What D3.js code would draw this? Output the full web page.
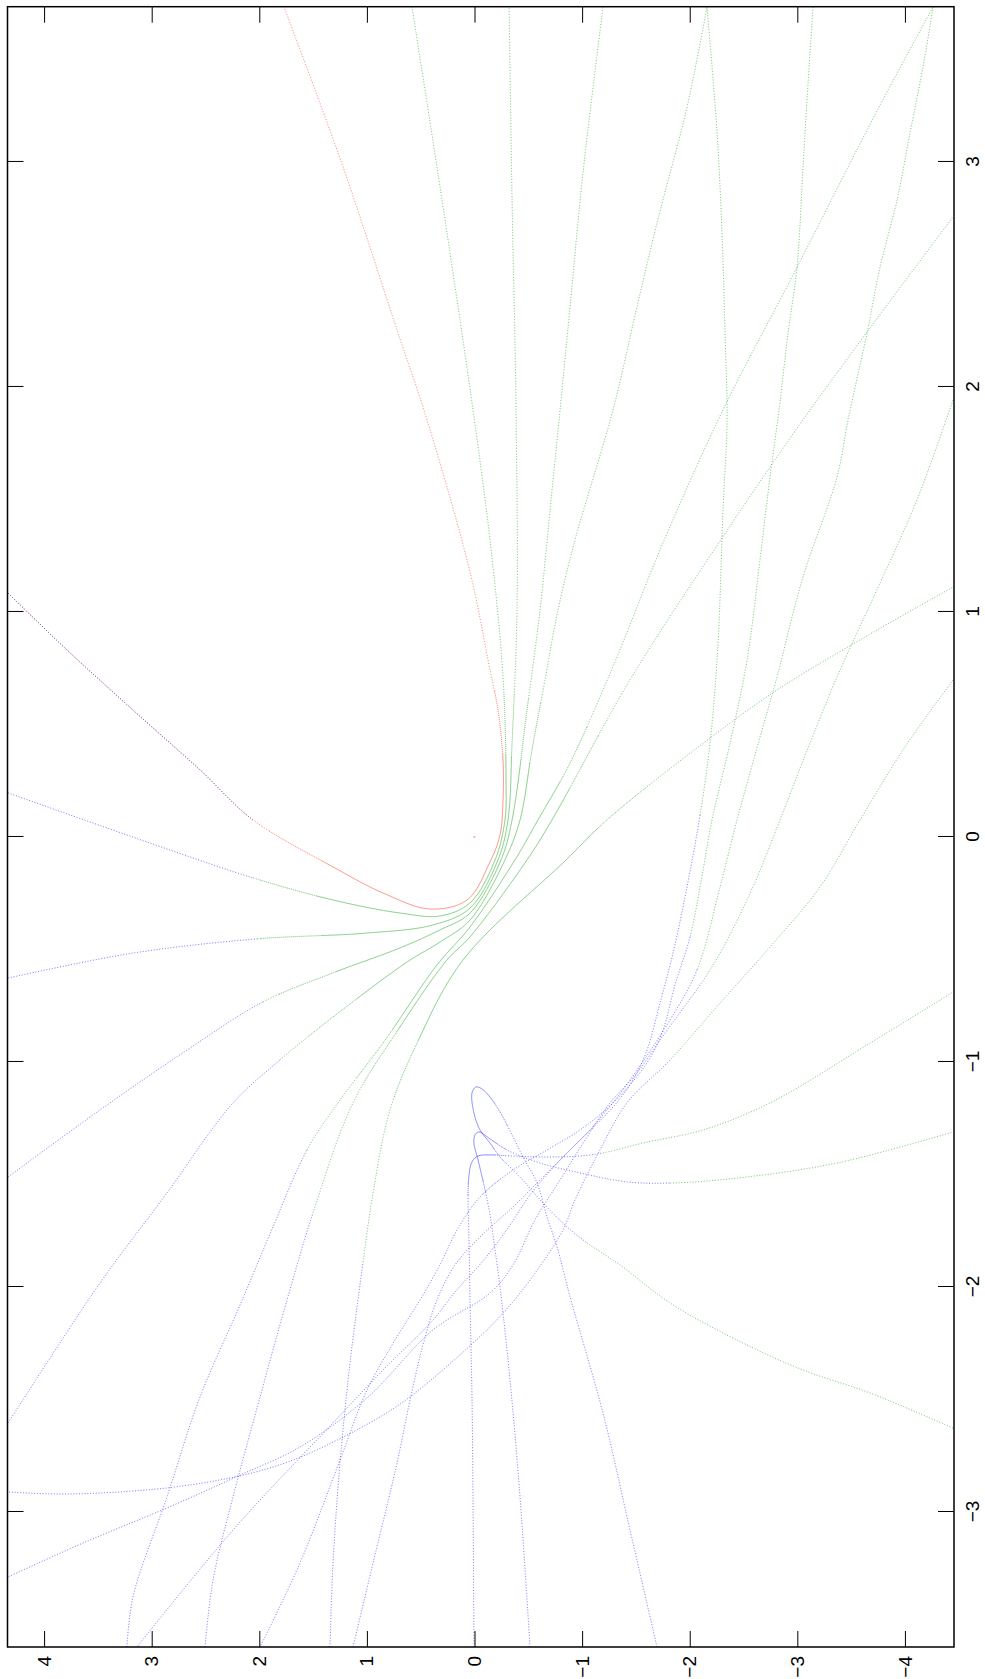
<!DOCTYPE html>
<html>
<head>
<meta charset="utf-8">
<script src="https://cdn.jsdelivr.net/npm/d3@7"></script>
<style>
  body { margin: 0; background: #fff; }
  svg { display: block; }
</style>
</head>
<body>
<div id="chart"></div>
<script>
// axis ticks and limits (the plot is drawn landscape, then turned a quarter turn)
const xTicks = [-3, -2, -1, 0, 1, 2, 3];
const yTicks = [-4, -3, -2, -1, 0, 1, 2, 3, 4];
const xDomain = [-3.6, 3.69];
const yDomain = [-4.456, 4.34];

// trajectories, [x, y] pairs
const redCurve = [[1.084,4.335],[0.831,3.787],[0.564,3.174],[0.298,2.551],[0.076,2.059],[-0.133,1.315],[-0.249,0.850],[-0.320,0.414],[-0.280,0.070],[-0.111,-0.144],[0.009,-0.237],[0.164,-0.265],[0.342,-0.265],[0.564,-0.218],[0.764,-0.135],[1.178,0.042],[1.853,0.441],[2.240,0.711],[2.978,1.222],[3.689,1.770]];
const redLeadBlue = [[1.084,4.335],[0.831,3.787],[0.564,3.174],[0.298,2.551],[0.076,2.059]];

const fan1Blue = [[0.196,4.335],[0.076,3.629],[-0.058,2.830],[-0.182,2.059]];
const fan1Green = [[-0.182,2.059],[-0.280,1.315],[-0.338,0.692],[-0.351,0.321],[-0.293,0.042],[-0.102,-0.191],[0.076,-0.283],[0.253,-0.293],[0.711,-0.265],[1.320,-0.144],[1.898,0.014],[2.831,0.302],[3.689,0.581]];

const fan2Blue = [[-0.627,4.335],[-0.516,3.174],[-0.453,2.021]];
const fan2Green = [[-0.453,2.021],[-0.427,0.999],[-0.391,0.386],[-0.316,0.042],[-0.102,-0.218],[0.076,-0.311],[0.418,-0.349],[1.009,-0.395],[1.898,-0.386],[2.831,-0.349],[3.689,-0.321]];

const fan3Blue = [[-1.511,4.335],[-1.213,3.480],[-0.947,2.672],[-0.733,1.966]];
const fan3Green = [[-0.733,1.966],[-0.604,1.315],[-0.493,0.692],[-0.413,0.321],[-0.338,0.042],[-0.102,-0.246],[0.076,-0.349],[0.564,-0.488],[1.009,-0.609],[1.453,-0.702],[1.898,-0.795],[2.356,-0.888],[2.951,-1.008],[3.689,-1.194]];

const fan4Blue = [[-2.604,4.335],[-2.316,3.945],[-1.982,3.480],[-1.582,2.858],[-1.182,2.244],[-0.991,1.808]];
const fan4Green = [[-0.991,1.808],[-0.800,1.315],[-0.556,0.627],[-0.467,0.321],[-0.369,0.042],[-0.102,-0.283],[0.076,-0.423],[0.387,-0.534],[0.698,-0.655],[1.009,-0.776],[1.320,-0.934],[1.898,-1.287],[2.356,-1.510],[2.729,-1.696],[3.244,-1.975],[3.689,-2.161]];

const fan5Blue = [[-3.600,3.230],[-3.378,3.174],[-2.933,2.858],[-2.489,2.551],[-2.080,2.179],[-1.733,1.873],[-1.391,1.557]];
const fan5Green = [[-1.391,1.557],[-1.169,1.250],[-0.916,0.850],[-0.569,0.349],[-0.400,0.042],[-0.102,-0.376],[0.076,-0.590],[0.329,-0.888],[0.800,-1.324],[1.276,-1.724],[1.898,-2.309],[2.489,-2.951],[3.253,-3.769],[3.689,-4.262]];

const fan6Blue = [[-3.600,2.505],[-3.302,2.430],[-2.933,2.244],[-2.489,1.993],[-2.089,1.761],[-1.671,1.501]];
const fan6Green = [[-1.671,1.501],[-1.182,1.129],[-0.844,0.692],[-0.547,0.256],[-0.444,0.042],[-0.102,-0.488],[0.076,-0.720],[0.698,-1.445],[1.342,-2.319],[1.898,-3.118],[2.756,-4.447]];

const fan7Blue = [[-3.600,1.343],[-3.227,1.315],[-2.782,1.250],[-2.338,1.157],[-2.058,1.083],[-1.889,1.036]];
const fan7Green = [[-1.889,1.036],[-1.582,0.943],[-1.213,0.785],[-0.916,0.534],[-0.547,0.107],[-0.102,-0.851],[0.076,-1.231],[0.440,-2.189],[0.653,-2.811],[0.876,-3.583],[1.111,-4.447]];

const dropDGreen = [[3.689,-2.161],[3.129,-2.254],[2.684,-2.300],[2.240,-2.328],[1.853,-2.347],[1.453,-2.309],[0.862,-2.263],[0.418,-2.189],[0.098,-2.096]];
const dropDBlue = [[0.098,-2.096],[-0.222,-1.975],[-0.516,-1.845],[-0.738,-1.724],[-0.947,-1.603],[-1.080,-1.473],[-1.200,-1.287],[-1.347,-0.981],[-1.493,-0.674],[-1.644,-0.358],[-1.778,-0.051],[-1.902,0.181],[-2.058,0.349],[-2.258,0.479],[-2.502,0.599],[-2.782,0.720],[-3.227,0.943],[-3.600,1.129]];

const dropEGreen = [[3.689,-3.146],[3.276,-3.090],[2.978,-3.053],[2.533,-2.997],[2.240,-2.914],[1.898,-2.830],[1.600,-2.746],[1.231,-2.653],[0.787,-2.533],[0.418,-2.375],[0.076,-2.207],[-0.147,-2.124],[-0.444,-2.003]];
const dropEBlue = [[-0.444,-2.003],[-0.658,-1.863],[-0.858,-1.752],[-1.004,-1.603],[-1.182,-1.287],[-1.302,-0.981],[-1.391,-0.674],[-1.480,-0.358],[-1.600,-0.051],[-1.747,0.163],[-1.902,0.321],[-2.058,0.507],[-2.236,0.739],[-2.458,0.999],[-2.769,1.250],[-3.227,1.622],[-3.600,1.993]];

const dropGGreen = [[3.689,-4.262],[3.422,-4.168],[3.129,-4.047],[2.831,-3.927],[2.533,-3.769],[2.240,-3.648],[1.853,-3.471],[1.600,-3.369],[1.156,-3.053],[0.711,-2.811],[0.396,-2.625],[0.076,-2.440],[-0.222,-2.282],[-0.591,-2.068]];
const dropGBlue = [[-0.591,-2.068],[-0.813,-1.817],[-1.036,-1.510],[-1.169,-1.306],[-1.302,-1.073],[-1.436,-0.795],[-1.591,-0.516],[-1.738,-0.311],[-1.889,-0.070],[-2.022,0.181],[-2.147,0.386],[-2.369,0.850],[-2.604,1.315],[-3.080,2.244],[-3.600,3.137]];

const dropIGreen = [[1.942,-4.447],[1.498,-4.112],[1.129,-3.769],[0.711,-3.369],[0.396,-3.100],[0.076,-2.839],[-0.222,-2.588],[-0.516,-2.282],[-0.658,-2.096]];
const dropIBlue = [[-0.658,-2.096],[-0.738,-1.975],[-0.902,-1.724],[-1.049,-1.510],[-1.182,-1.259],[-1.347,-1.027],[-1.524,-0.795],[-1.702,-0.562],[-1.902,-0.358],[-2.027,-0.144],[-2.191,0.386],[-2.493,0.999],[-2.711,1.622],[-2.836,2.179],[-2.982,2.858],[-3.138,3.639],[-3.289,4.335]];

const dropKGreen = [[0.698,-4.447],[0.387,-3.982],[0.076,-3.583],[-0.222,-3.211],[-0.489,-2.746],[-0.738,-2.282],[-0.991,-1.817]];
const dropKBlue = [[-0.991,-1.817],[-1.182,-1.417],[-1.391,-1.166],[-1.613,-0.934],[-1.747,-0.822],[-1.969,-0.516],[-2.116,-0.265],[-2.249,0.014],[-2.511,0.664],[-2.644,1.129],[-2.769,1.687],[-2.836,2.151],[-2.893,2.858],[-2.920,3.787],[-2.911,4.335]];

const loopABlue = [[-3.600,-1.696],[-3.080,-1.445],[-2.560,-1.194],[-2.044,-0.888],[-1.822,-0.767],[-1.689,-0.674],[-1.538,-0.581],[-1.422,-0.451],[-1.333,-0.358],[-1.222,-0.237],[-1.156,-0.144],[-1.120,-0.070],[-1.111,-0.014],[-1.138,0.023],[-1.227,0.005],[-1.302,-0.051],[-1.360,-0.144],[-1.422,-0.237],[-1.511,-0.423],[-1.627,-0.637],[-1.733,-0.860],[-1.804,-1.046]];
const loopAGreen = [[-1.804,-1.046],[-1.902,-1.352],[-2.071,-1.817],[-2.236,-2.440],[-2.369,-3.053],[-2.471,-3.676],[-2.627,-4.447]];

const loopBBlue = [[-3.600,-0.516],[-2.933,-0.423],[-2.413,-0.330],[-2.000,-0.237],[-1.836,-0.191],[-1.680,-0.144],[-1.547,-0.088],[-1.436,-0.033],[-1.360,0.005],[-1.324,-0.005],[-1.311,-0.042],[-1.342,-0.144],[-1.391,-0.302],[-1.449,-0.609],[-1.493,-0.981],[-1.533,-1.417],[-1.538,-1.817]];
const loopBGreen = [[-1.538,-1.817],[-1.516,-2.440],[-1.449,-3.369],[-1.311,-4.447]];

const loopCBlue = [[-3.600,0.005],[-2.947,0.014],[-2.502,0.023],[-2.058,0.042],[-1.791,0.051],[-1.613,0.060],[-1.502,0.051],[-1.444,0.023],[-1.418,-0.033],[-1.413,-0.144],[-1.418,-0.358],[-1.422,-0.674],[-1.418,-0.981],[-1.404,-1.194]];
const loopCGreen = [[-1.404,-1.194],[-1.360,-1.566],[-1.302,-2.124],[-1.182,-2.746],[-0.916,-3.676],[-0.689,-4.447]];

const restPoint = [[0, 0]];

const BLUE = '#1010ff', GREEN = '#009a00', RED = '#ff1a00';

// each trajectory: first part and second part share their join point
const pairs = [
  [fan1Blue, BLUE, fan1Green, GREEN],
  [fan2Blue, BLUE, fan2Green, GREEN],
  [fan3Blue, BLUE, fan3Green, GREEN],
  [fan4Blue, BLUE, fan4Green, GREEN],
  [fan5Blue, BLUE, fan5Green, GREEN],
  [fan6Blue, BLUE, fan6Green, GREEN],
  [fan7Blue, BLUE, fan7Green, GREEN],
  [dropDGreen, GREEN, dropDBlue, BLUE],
  [dropEGreen, GREEN, dropEBlue, BLUE],
  [dropGGreen, GREEN, dropGBlue, BLUE],
  [dropIGreen, GREEN, dropIBlue, BLUE],
  [dropKGreen, GREEN, dropKBlue, BLUE],
  [loopABlue, BLUE, loopAGreen, GREEN],
  [loopBBlue, BLUE, loopBGreen, GREEN],
  [loopCBlue, BLUE, loopCGreen, GREEN]
];

// landscape plot box, turned so that x runs up the page and y runs to the left
const W = 1640.3, H = 946.5;
const left = 7.5, bottom = 1647;

const svg = d3.select('#chart').append('svg')
  .attr('width', 985)
  .attr('height', 1679);

const g = svg.append('g')
  .attr('transform', `translate(${left},${bottom}) rotate(-90)`);

const x = d3.scaleLinear().domain(xDomain).range([0, W]);
const y = d3.scaleLinear().domain(yDomain).range([H, 0]);

g.append('clipPath').attr('id', 'box')
  .append('rect').attr('width', W).attr('height', H);

const line = d3.line()
  .x(d => x(d[0]))
  .y(d => y(d[1]))
  .curve(d3.curveCatmullRom.alpha(0.5));

const plain = d3.line();

const plot = g.append('g').attr('clip-path', 'url(#box)');

// walk along the smooth path so the colour change does not bend the curve
function sampleCurve(pts) {
  const p = plot.append('path').attr('d', line(pts)).style('fill', 'none');
  const node = p.node();
  const len = node.getTotalLength();
  const out = [];
  for (let s = 0; s <= len; s += 0.5) {
    const q = node.getPointAtLength(s);
    out.push([q.x, q.y]);
  }
  const end = node.getPointAtLength(len);
  out.push([end.x, end.y]);
  p.remove();
  return out;
}

function nearestIndex(samples, pt) {
  const px = x(pt[0]), py = y(pt[1]);
  let best = 0, bd = Infinity;
  samples.forEach((s, i) => {
    const d = (s[0] - px) ** 2 + (s[1] - py) ** 2;
    if (d < bd) { bd = d; best = i; }
  });
  return best;
}

const pieces = [];

// red separatrix, with the blue run lying on its first stretch
const redSamples = sampleCurve(redCurve);
pieces.push([redSamples, RED]);
pieces.push([redSamples.slice(0, nearestIndex(redSamples, redLeadBlue[redLeadBlue.length - 1]) + 1), BLUE]);

pairs.forEach(([a, ca, b, cb]) => {
  const samples = sampleCurve(a.concat(b.slice(1)));
  const k = nearestIndex(samples, a[a.length - 1]);
  pieces.push([samples.slice(0, k + 1), ca]);
  pieces.push([samples.slice(k), cb]);
});

// the solver crawls near the knot and at the loop tips, so the dots merge there
const slowSpots = [
  [redCurve[8], 150],
  [loopABlue[12], 26],
  [loopBBlue[9], 24],
  [loopCBlue[7], 24]
].map(([p, r]) => [x(p[0]), y(p[1]), r]);

function level(s) {
  let best = 2;
  slowSpots.forEach(([cx, cy, r]) => {
    const d = Math.hypot(s[0] - cx, s[1] - cy);
    if (d < r) best = 0;
    else if (d < r * 1.4 && best > 1) best = 1;
  });
  return best;
}

const runs = [];
pieces.forEach(([samples, color]) => {
  let cur = null;
  samples.forEach(s => {
    const lv = level(s);
    if (!cur || cur.lv !== lv) {
      if (cur) cur.pts.push(s);
      cur = {lv, color, pts: cur ? [cur.pts[cur.pts.length - 1], s] : [s]};
      runs.push(cur);
    } else {
      cur.pts.push(s);
    }
  });
});

const dash = ['none', '1,1', '1,1.8'];

plot.selectAll('path.traj')
  .data(runs)
  .enter().append('path')
  .attr('class', 'traj')
  .attr('d', d => plain(d.pts))
  .style('fill', 'none')
  .style('stroke', d => d.color)
  .style('stroke-width', d => d.lv === 0 ? 0.7 : 0.75)
  .style('stroke-opacity', d => d.lv === 0 ? 0.7 : 0.8)
  .style('stroke-dasharray', d => dash[d.lv]);

plot.selectAll('circle.rest')
  .data(restPoint)
  .enter().append('circle')
  .attr('class', 'rest')
  .attr('cx', d => x(d[0]))
  .attr('cy', d => y(d[1]))
  .attr('r', 1)
  .style('fill', RED)
  .style('opacity', 0.4);

const font = '"Liberation Sans", Arial, Helvetica, sans-serif';

// axes, ticks pointing in
const xAxis = d3.axisBottom(x).tickValues(xTicks).tickSizeInner(-16).tickSizeOuter(0).tickPadding(12);
const yAxis = d3.axisLeft(y).tickValues(yTicks).tickSizeInner(-16).tickSizeOuter(0).tickPadding(9);

g.append('g')
  .attr('class', 'x axis')
  .attr('transform', `translate(0,${H})`)
  .call(xAxis);

g.append('g')
  .attr('class', 'y axis')
  .call(yAxis);

g.append('g')
  .attr('class', 'x axis top')
  .call(d3.axisTop(x).tickValues(xTicks).tickSizeInner(-16).tickSizeOuter(0).tickFormat(''));

g.append('g')
  .attr('class', 'y axis right')
  .attr('transform', `translate(${W},0)`)
  .call(d3.axisRight(y).tickValues(yTicks).tickSizeInner(-16).tickSizeOuter(0).tickFormat(''));

g.selectAll('.axis .domain').remove();
g.selectAll('.axis line').style('stroke', '#000').style('stroke-width', 1);
g.selectAll('.axis text')
  .style('font-family', font)
  .style('font-size', '19px')
  .style('fill', '#000');

g.append('rect')
  .attr('width', W)
  .attr('height', H)
  .style('fill', 'none')
  .style('stroke', '#000')
  .style('stroke-width', 1.5);
</script>
</body>
</html>
